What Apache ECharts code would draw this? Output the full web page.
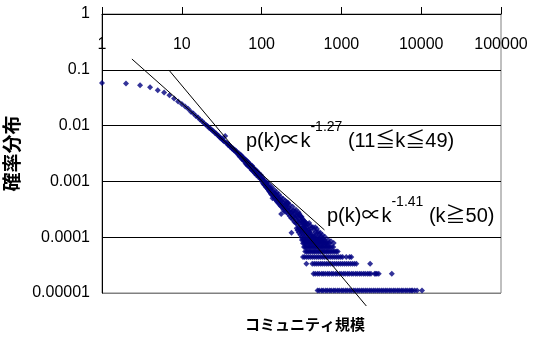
<!DOCTYPE html>
<html>
<head>
<meta charset="utf-8">
<script src="https://cdn.jsdelivr.net/npm/echarts@6/dist/echarts.min.js"></script>
<style>
  html, body { margin: 0; padding: 0; background: #fff; }
  #chart { width: 535px; height: 340px; }
</style>
</head>
<body>
<div id="chart"></div>
<script>
// Community size k and the share of communities with that size, p(k).

// Tick labels of the two log axes
const xTickLabels = ['1', '10', '100', '1000', '10000', '100000'];
const yTickLabels = ['0.00001', '0.0001', '0.001', '0.01', '0.1', '1'];

// Small communities, k = 1 … 50
const headK = [1, 2, 3, 4, 5, 6, 7, 8, 9, 10, 11, 12, 13, 14, 15, 16, 17, 18, 19, 20,
  21, 22, 23, 24, 25, 26, 27, 28, 29, 30, 31, 32, 33, 34, 35, 36, 37, 38, 39, 40,
  41, 42, 43, 44, 45, 46, 47, 48, 49, 50];
const headP = [0.058, 0.057, 0.053, 0.0485, 0.043, 0.039, 0.035, 0.0305, 0.027, 0.0245,
  0.0221, 0.0200, 0.0178, 0.0165, 0.0149, 0.0139, 0.0127, 0.0120, 0.0110, 0.0104,
  0.0098, 0.0091, 0.0088, 0.0082, 0.0079, 0.0074, 0.0072, 0.0067, 0.0066, 0.0061,
  0.0059, 0.0058, 0.0054, 0.0052, 0.0065, 0.0050, 0.0048, 0.0045, 0.0045, 0.0042,
  0.0042, 0.0040, 0.0038, 0.0039, 0.0036, 0.0037, 0.0034, 0.0035, 0.0033, 0.0032];

// k = 51 … 100
const midK = [51, 52, 53, 54, 55, 56, 57, 58, 59, 60, 61, 62, 63, 64, 65, 66, 67, 68, 69, 70,
  71, 72, 73, 74, 75, 76, 77, 78, 79, 80, 82, 83, 84, 85, 86, 88, 89, 90, 91, 93,
  94, 95, 97, 98, 100];
const midP = [0.0030, 0.0032, 0.0028, 0.0030, 0.0027, 0.0029, 0.0025, 0.0027, 0.0024, 0.0026,
  0.0023, 0.0025, 0.0021, 0.0024, 0.0020, 0.0023, 0.0019, 0.0022, 0.0019, 0.0021,
  0.0018, 0.0020, 0.0017, 0.0019, 0.0016, 0.0019, 0.0016, 0.0018, 0.0015, 0.0017,
  0.0014, 0.0016, 0.0014, 0.0016, 0.0013, 0.0015, 0.0013, 0.0014, 0.0012, 0.0014,
  0.0012, 0.0013, 0.0011, 0.0013, 0.0011];

// k = 101 … 200
const bandK = [101, 102, 103, 104, 106, 107, 108, 109, 110, 112, 113, 115, 116, 117, 118, 120,
  121, 123, 124, 125, 126, 128, 130, 131, 133, 134, 135, 137, 138, 140, 142, 144,
  145, 146, 148, 150, 152, 154, 155, 156, 158, 160, 162, 164, 165, 166, 168, 170,
  172, 174, 175, 176, 178, 180, 182, 185, 186, 187, 190, 192, 195, 197, 198, 200];
const bandP = [0.00105, 0.0012, 0.00095, 0.00110, 0.00090, 0.00101, 0.00105, 0.00085, 0.00096, 0.00088,
  0.00079, 0.00092, 0.00097, 0.00076, 0.00084, 0.00072, 0.00080, 0.00068, 0.00089, 0.00078,
  0.00065, 0.00071, 0.00060, 0.00074, 0.00063, 0.00079, 0.00057, 0.00050, 0.00066, 0.00058,
  0.00053, 0.00062, 0.00070, 0.00049, 0.00055, 0.00060, 0.00046, 0.00052, 0.00064, 0.00043,
  0.00056, 0.00047, 0.00041, 0.00050, 0.00058, 0.00044, 0.00038, 0.00047, 0.00042, 0.00036,
  0.00052, 0.00026, 0.00044, 0.00039, 0.00034, 0.00041, 0.00049, 0.00031, 0.00037, 0.00033,
  0.00029, 0.00038, 0.00045, 0.00032];

// k = 201 … 800
const tailK = [203, 205, 206, 208, 210, 213, 215, 216, 219, 222, 224, 225, 228, 231, 234, 237,
  240, 243, 245, 246, 250, 253, 256, 260, 262, 264, 268, 270, 272, 276, 280, 284,
  285, 288, 290, 292, 296, 298, 300, 305, 308, 310, 312, 315, 318, 320, 325, 328,
  330, 332, 338, 340, 345, 348, 350, 355, 360, 362, 370, 375, 378, 385, 390, 395,
  400, 410, 420, 436, 440, 450, 455, 470, 480, 495, 510, 530, 545, 560, 580, 600,
  620, 640, 680, 740, 800];
const tailP = [0.00036, 0.00028, 0.00043, 0.00033, 0.00040, 0.00030, 0.00041, 0.00026, 0.00034, 0.00029,
  0.00038, 0.00024, 0.00031, 0.00027, 0.00022, 0.00012, 0.00028, 0.00025, 0.00035, 0.00021,
  0.00030, 0.00023, 0.00019, 0.00026, 0.00029, 0.00022, 0.00018, 0.00031, 0.00024, 0.00020,
  0.00017, 0.00023, 0.00026, 0.00019, 0.00028, 0.00015, 0.00021, 0.00026, 0.00018, 0.00014,
  0.00024, 0.00020, 0.00023, 0.00016, 0.00023, 0.00013, 0.00018, 0.00021, 0.00015, 0.00019,
  0.00020, 0.00017, 0.00014, 0.00019, 0.00017, 0.00016, 0.00013, 0.00018, 0.00015, 0.00012,
  0.00017, 0.000136, 0.000113, 0.00018, 0.000124, 0.00016, 0.000147, 0.000102, 0.00015, 0.000136,
  0.000090, 0.00015, 0.000124, 0.00014, 0.000124, 0.000113, 0.00012, 0.000102, 0.00011, 0.000090,
  0.000102, 0.000079, 0.000090, 0.000085, 0.000079];

// Sizes held by only a few communities: one list of k per level of p
const rowP = [1.11e-5, 2.22e-5, 3.33e-5, 4.44e-5, 5.55e-5, 6.66e-5, 7.77e-5, 8.88e-5, 9.99e-5,
  1.11e-4, 1.22e-4, 1.33e-4, 1.44e-4];
const rowK = [
  [503, 528, 565, 592, 634, 667, 712, 748, 797, 838, 893, 941, 1004, 1057, 1125, 1186, 1263,
   1331, 1417, 1492, 1589, 1676, 1783, 1880, 1998, 2109, 2245, 2366, 2518, 2657, 2822, 2979,
   3170, 3344, 3556, 3751, 3990, 4205, 4480, 4721, 5030, 5298, 5640, 5941, 6335, 6672, 7105,
   7480, 7760, 8290, 8870, 10240],
  [448, 471, 503, 529, 566, 593, 629, 671, 705, 753, 790, 845, 887, 948, 996, 1063, 1118,
   1193, 1254, 1339, 1408, 1501, 1580, 1684, 1772, 1890, 1989, 2118, 2230, 2345, 2610, 2700,
   2790, 2940, 4280],
  [364, 432, 458, 484, 514, 546, 577, 612, 650, 687, 729, 772, 818, 866, 918, 973, 1030,
   1092, 1156, 1226, 1298, 1376, 1457, 1540, 2290],
  [330, 346, 368, 389, 412, 437, 463, 491, 520, 551, 584, 618, 655, 694, 736, 779, 826,
   875, 927, 982, 1035, 1150, 1265, 1330],
  [352, 366, 380, 395, 410, 428, 445, 462, 480, 500, 520, 540, 560, 582, 605, 625, 650, 675,
   700, 730, 760, 795, 830, 865, 900],
  [340, 352, 365, 380, 395, 410, 425, 442, 460, 477, 495, 515, 535, 555, 575, 597, 620, 645,
   670, 695, 720, 755, 790],
  [330, 342, 355, 370, 385, 400, 415, 432, 450, 467, 485, 502, 520, 540, 560, 580, 600, 625,
   650, 680, 710],
  [320, 332, 345, 358, 372, 386, 400, 416, 432, 449, 466, 483, 500, 520, 540, 560, 580, 620],
  [315, 340, 365, 395, 425, 458, 495, 530],
  [305, 330, 355, 385, 415, 448, 480],
  [292, 318, 345, 372, 405],
  [282, 305, 332, 360, 392],
  [275, 298, 322, 350]
];

// Power-law fit lines, end points [k, p]
const fitLineA = [[2.37, 0.156], [613, 1.35e-4]];
const fitLineB = [[6.88, 0.0992], [2053, 5.85e-6]];

const points = [];
function addPairs(ks, ps) { ks.forEach((k, i) => points.push([k, ps[i]])); }
addPairs(headK, headP);
addPairs(midK, midP);
addPairs(bandK, bandP);
addPairs(tailK, tailP);
rowK.forEach((ks, r) => ks.forEach(k => points.push([k, rowP[r]])));

const tickFont = '"Liberation Sans", Arial, sans-serif';
const textFont = '"Liberation Sans", Arial, "Noto Sans CJK JP", sans-serif';
const cjkFont = '"Noto Sans CJK JP", sans-serif';
const decade = v => Math.round(Math.log10(v));

// Formula text with a raised exponent; supLine sets how high the exponent sits
function formulaRich(supLine) {
  return {
    m: { fontSize: 20, fontFamily: textFont, fill: '#000', lineHeight: 31, verticalAlign: 'bottom' },
    s: { fontSize: 14, fontFamily: textFont, fill: '#000', lineHeight: supLine, verticalAlign: 'top' }
  };
}

const chart = echarts.init(document.getElementById('chart'), null, { renderer: 'canvas' });
chart.setOption({
  animation: false,
  backgroundColor: '#fff',
  grid: {
    left: 102, top: 14, width: 399, height: 279,
    outerBoundsMode: 'none', containLabel: false,
    show: true, borderColor: '#808080', borderWidth: 1, backgroundColor: 'transparent'
  },
  xAxis: {
    type: 'log', logBase: 10, min: 1, max: 100000,
    position: 'top',
    axisLine: { lineStyle: { color: '#000', width: 1 } },
    axisTick: { show: true, inside: false, length: 7, lineStyle: { color: '#000' } },
    minorTick: { show: false },
    axisLabel: {
      inside: true, margin: 23, color: '#000', fontSize: 16, fontFamily: tickFont,
      formatter: v => xTickLabels[decade(v)]
    },
    splitLine: { show: false }
  },
  yAxis: {
    type: 'log', logBase: 10, min: 0.00001, max: 1,
    name: '確率分布', nameLocation: 'middle', nameGap: 77, nameRotate: 90,
    nameTextStyle: { color: '#000', fontSize: 19, fontFamily: cjkFont, fontWeight: 'bold' },
    axisLine: { lineStyle: { color: '#000', width: 1 } },
    axisTick: { show: false },
    axisLabel: {
      margin: 12, color: '#000', fontSize: 16, fontFamily: tickFont,
      formatter: v => yTickLabels[decade(v) + 5]
    },
    splitLine: {
      show: true,
      lineStyle: { color: ['#808080', '#000', '#000', '#000', '#000', '#000'], width: 1 }
    }
  },
  series: [
    {
      type: 'scatter', data: points, symbol: 'diamond', symbolSize: 6,
      itemStyle: { color: '#000080' }, silent: true, z: 2
    },
    {
      type: 'line', data: fitLineA, symbol: 'none', clip: false, silent: true, z: 3,
      lineStyle: { color: '#000', width: 1 }
    },
    {
      type: 'line', data: fitLineB, symbol: 'none', clip: false, silent: true, z: 3,
      lineStyle: { color: '#000', width: 1 }
    }
  ],
  graphic: [
    {
      type: 'text', left: 246, top: 120, z: 10,
      style: { text: '{m|p(k)∝k}{s|-1.27}{m| (11≦k≦49)}', rich: formulaRich(14) }
    },
    {
      type: 'text', left: 327, top: 195, z: 10,
      style: { text: '{m|p(k)∝k}{s|-1.41}{m| (k≧50)}', rich: formulaRich(22) }
    },
    {
      type: 'text', left: 245, top: 317, z: 10,
      style: { text: 'コミュニティ規模', fontSize: 15, fontWeight: 'bold', fontFamily: cjkFont, fill: '#000' }
    }
  ]
});
</script>
</body>
</html>
